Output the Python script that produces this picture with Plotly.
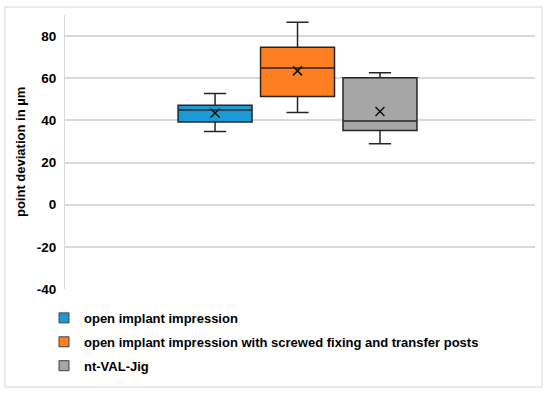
import plotly.graph_objects as go

series = ["open implant impression",
          "open implant impression with screwed fixing and transfer posts",
          "nt-VAL-Jig"]
lower_whisker = [34.7, 43.7, 28.9]
q1_vals = [39.2, 51.3, 35.2]
median_vals = [44.9, 64.8, 39.7]
q3_vals = [47.2, 74.7, 60.2]
upper_whisker = [52.7, 86.6, 62.6]
mean_vals = [43.5, 63.5, 44.2]
colors = ["#1a9bd7", "#fd7f22", "#a6a6a6"]
y_ticks = [-40, -20, 0, 20, 40, 60, 80]
y_title = "point deviation in µm"

FONT = "Arial, Liberation Sans, sans-serif"
fig = go.Figure()

for i, name in enumerate(series):
    fig.add_trace(go.Box(
        x=[name], q1=[q1_vals[i]], median=[median_vals[i]], q3=[q3_vals[i]],
        lowerfence=[lower_whisker[i]], upperfence=[upper_whisker[i]],
        fillcolor=colors[i], line=dict(color="#262626", width=1.5),
        whiskerwidth=0.3, showlegend=False, name=name, hoverinfo="skip",
    ))

fig.add_trace(go.Scatter(
    x=series, y=mean_vals, mode="markers",
    marker=dict(symbol="x-thin", size=9, line=dict(color="#111111", width=1.5)),
    showlegend=False, hoverinfo="skip",
))

for i, name in enumerate(series):
    fig.add_trace(go.Scatter(
        x=[None], y=[None], mode="markers", name=f"<b>{name}</b>", legendgroup=str(i),
        marker=dict(symbol="square", size=10, color=colors[i],
                    line=dict(color="#404040", width=1)),
    ))

fig.update_layout(
    width=550, height=396,
    margin=dict(l=65, r=15, t=15, b=107, autoexpand=False),
    paper_bgcolor="white", plot_bgcolor="white",
    font=dict(family=FONT, size=13, color="black"),
    boxgap=0.103, boxgroupgap=0,
    xaxis=dict(type="category", categoryorder="array", categoryarray=series,
               range=[-1.82, 3.88], showticklabels=False, showgrid=False,
               zeroline=False, showline=False, ticks="", automargin=False),
    yaxis=dict(range=[-40, 90], tickvals=y_ticks,
               ticktext=[f"<b>{v}</b>" for v in y_ticks],
               showgrid=True, gridcolor="#d9d9d9", gridwidth=1.5,
               zeroline=False, showline=True, linecolor="#d9d9d9", linewidth=1,
               tickfont=dict(size=13.5, family=FONT), automargin=False,
               ticklabelstandoff=5),
    annotations=[dict(text=f"<b>{y_title}</b>", xref="paper", yref="paper",
                      x=-0.0957, y=0.5, xanchor="center", yanchor="middle",
                      textangle=-90, showarrow=False,
                      font=dict(size=13, family=FONT, color="black"))],
    legend=dict(x=0.08, y=0.235, xref="container", yref="container",
                xanchor="left", yanchor="top",
                font=dict(size=13, family=FONT), tracegroupgap=4,
                bgcolor="rgba(0,0,0,0)"),
    shapes=[dict(type="rect", xref="paper", yref="paper",
                 x0=-0.1277, x1=1.0149, y0=-0.3577, y1=1.029,
                 line=dict(color="#d9d9d9", width=1), layer="below")],
)

fig.write_html("out.html", config={"displayModeBar": False},
               post_script="document.body.style.margin='0px';")
